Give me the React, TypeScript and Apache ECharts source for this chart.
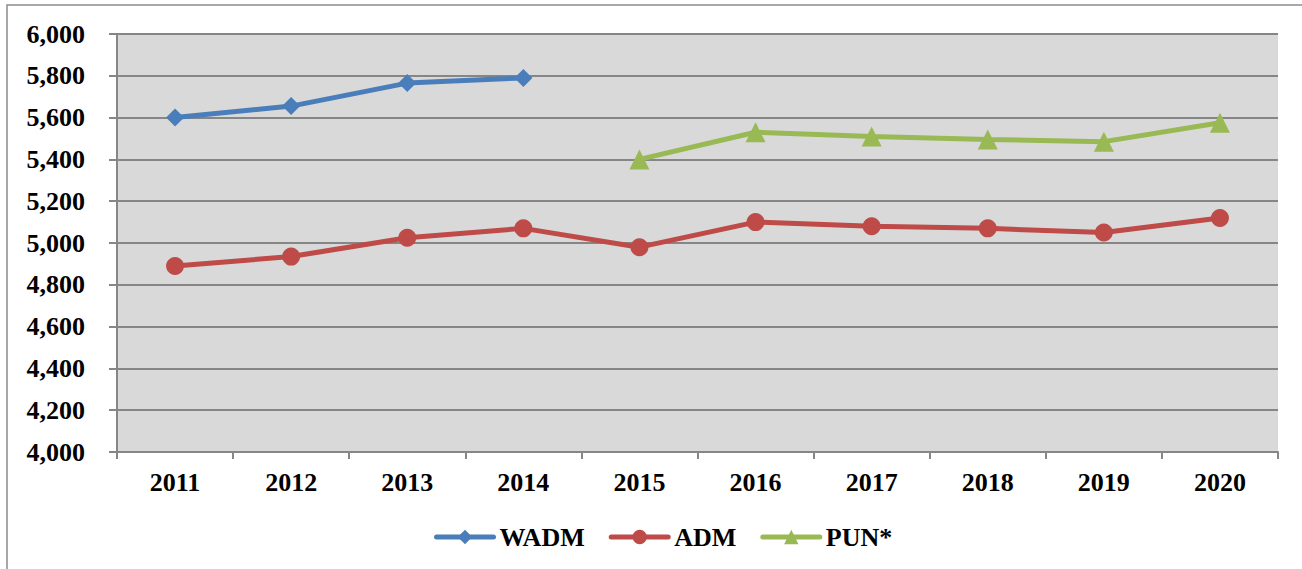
import React, { useEffect, useRef } from "react";
import * as echarts from "echarts";

const years = ["2011", "2012", "2013", "2014", "2015", "2016", "2017", "2018", "2019", "2020"];
const wadm = [5600, 5655, 5765, 5790, null, null, null, null, null, null];
const adm = [4890, 4935, 5025, 5070, 4980, 5100, 5080, 5070, 5050, 5120];
const pun = [null, null, null, null, 5400, 5530, 5510, 5495, 5485, 5575];

const FONT = "'Liberation Serif', 'Times New Roman', serif";

export default function App() {
  const ref = useRef<HTMLDivElement>(null);
  useEffect(() => {
    if (!ref.current) return;
    const chart = echarts.init(ref.current, undefined, { renderer: "svg" });
    chart.setOption({
      animation: false,
      graphic: [
        {
          type: "rect",
          shape: { x: 7, y: 5, width: 1300, height: 570 },
          style: { fill: "none", stroke: "#8c8c8c", lineWidth: 1.5 },
          silent: true,
        },
      ],
      grid: {
        left: 117,
        top: 34,
        width: 1161,
        height: 418,
        show: true,
        backgroundColor: "#D9D9D9",
        borderWidth: 0,
      },
      legend: {
        top: 519,
        left: 429,
        itemWidth: 57,
        itemHeight: 18,
        itemGap: 24,
        lineStyle: { width: 5, cap: "round" },
        textStyle: {
          fontFamily: FONT,
          fontWeight: "bold",
          fontSize: 26,
          color: "#000",
          padding: [0, 0, 0, 1],
        },
        data: ["WADM", "ADM", "PUN*"],
      },
      xAxis: {
        type: "category",
        data: years,
        boundaryGap: true,
        axisLine: { lineStyle: { color: "#868686", width: 2 } },
        axisTick: { show: true, length: 7, lineStyle: { color: "#868686", width: 2 } },
        axisLabel: { fontFamily: FONT, fontWeight: "bold", fontSize: 26, color: "#000", margin: 17 },
      },
      yAxis: {
        type: "value",
        min: 4000,
        max: 6000,
        interval: 200,
        axisLine: { show: true, lineStyle: { color: "#868686", width: 2 } },
        axisTick: { show: true, length: 8, lineStyle: { color: "#868686", width: 2 } },
        splitLine: { lineStyle: { color: "#868686", width: 2 } },
        axisLabel: {
          fontFamily: FONT,
          fontWeight: "bold",
          fontSize: 26,
          color: "#000",
          margin: 32,
          formatter: (v: number) => v.toLocaleString("en-US"),
        },
      },
      series: [
        {
          name: "WADM",
          type: "line",
          data: wadm,
          symbol: "diamond",
          symbolSize: 18,
          lineStyle: { width: 5, color: "#4A7EBB" },
          itemStyle: { color: "#4A7EBB" },
        },
        {
          name: "ADM",
          type: "line",
          data: adm,
          symbol: "circle",
          symbolSize: 18,
          lineStyle: { width: 5, color: "#BE4B48" },
          itemStyle: { color: "#BE4B48" },
        },
        {
          name: "PUN*",
          type: "line",
          data: pun,
          symbol: "triangle",
          symbolSize: 20,
          lineStyle: { width: 5, color: "#98B954" },
          itemStyle: { color: "#98B954" },
        },
      ],
    });
    return () => chart.dispose();
  }, []);
  return (
    <div
      ref={ref}
      style={{ position: "absolute", left: 0, top: 0, width: 1302, height: 569, background: "#fff" }}
    />
  );
}
